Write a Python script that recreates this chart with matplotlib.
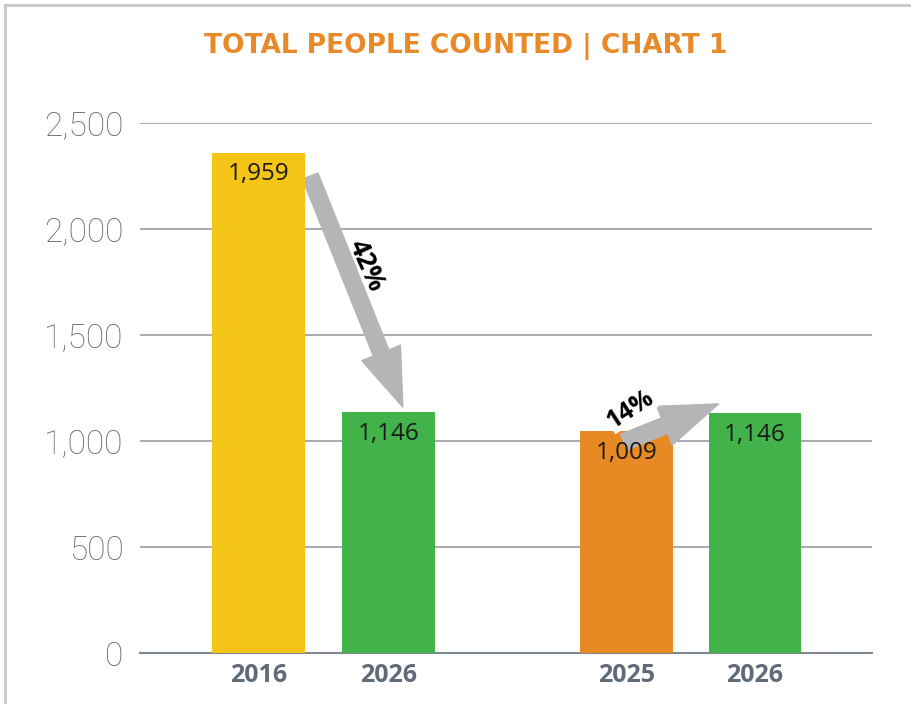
import matplotlib
matplotlib.use("Agg")
import matplotlib.pyplot as plt
from matplotlib.lines import Line2D

categories = ["2016", "2026", "2025", "2026"]
bar_heights = [2360, 1135, 1045, 1130]
bar_labels = ["1,959", "1,146", "1,009", "1,146"]
colors = ["#F4C516", "#42B34A", "#E78A24", "#42B34A"]
positions = [0, 1, 2.83, 3.82]
changes = ["42%", "14%"]
yticks = [0, 500, 1000, 1500, 2000, 2500]
ytick_labels = ["0", "500", "1,000", "1,500", "2,000", "2,500"]
title = "TOTAL PEOPLE COUNTED | CHART 1"

W, H = 912, 704
fig = plt.figure(figsize=(W / 100, H / 100), dpi=100)
ax = fig.add_axes([140 / W, 1 - 653 / H, (872 - 140) / W, (653 - 123) / H])

bw = 0.715
ax.bar(positions, bar_heights, width=bw, color=colors, zorder=3)
ax.set_ylim(0, 2500)
ax.set_xlim(-0.912, 4.72)
ax.set_yticks(yticks)
ax.set_yticklabels(ytick_labels, fontfamily="Roboto", fontweight="light",
                   fontsize=24, color="#5E6875")
ax.yaxis.grid(True, color="#8D949D", linewidth=1.1, zorder=0)
ax.set_axisbelow(True)
ax.tick_params(axis="y", length=0, pad=12)
ax.tick_params(axis="x", length=0, pad=7)
ax.set_xticks(positions)
ax.set_xticklabels(categories, fontfamily="Open Sans", fontweight="bold",
                   fontsize=18, color="#5F6B78")
for s in ["top", "right", "left"]:
    ax.spines[s].set_visible(False)
ax.spines["bottom"].set_color("#7E8792")
ax.spines["bottom"].set_linewidth(1.5)

# bar labels
for x, h, lab in zip(positions, bar_heights, bar_labels):
    ax.text(x, h - 45, lab, ha="center", va="top", fontfamily="Open Sans",
            fontsize=17.5, color="#1a1a1a", zorder=6)

astyle = "simple,head_length=2.1,head_width=1.5,tail_width=0.6"

# arrow 1: from top-right of bar 1 down to top of bar 2
x0, y0 = positions[0] + bw / 2 + 0.04, bar_heights[0] - 110
x1, y1 = positions[1] + 0.11, bar_heights[1] + 25
ax.annotate("", xy=(x1, y1), xytext=(x0, y0),
            arrowprops=dict(arrowstyle=astyle, color="#B5B5B7",
                            shrinkA=0, shrinkB=0, mutation_scale=20),
            zorder=2)
ax.text(0.83, 1830, changes[0], rotation=-66, ha="center", va="center",
        fontfamily="Open Sans", fontweight="bold", fontsize=19, color="black", zorder=6)

# arrow 2: from bar 3 up to bar 4
x0, y0 = positions[2] - 0.02, bar_heights[2] - 50
x1, y1 = positions[3] - 0.28, bar_heights[3] + 45
ax.annotate("", xy=(x1, y1), xytext=(x0, y0),
            arrowprops=dict(arrowstyle=astyle, color="#B5B5B7",
                            shrinkA=0, shrinkB=0, mutation_scale=20),
            zorder=4)
ax.text(2.86, 1150, changes[1], rotation=33, ha="center", va="center",
        fontfamily="Open Sans", fontweight="bold", fontsize=18, color="black", zorder=6,
        bbox=dict(facecolor="white", edgecolor="none", pad=0.3))

fig.text(466 / W, 1 - 47 / H, title, ha="center", va="center",
         fontfamily="DejaVu Sans", fontweight="bold", fontsize=19, color="#E8892A")

# frame lines at top and left
fig.add_artist(Line2D([5 / W, 5 / W], [0, 1 - 5 / H], transform=fig.transFigure,
                      color="#C9C9C9", linewidth=2))
fig.add_artist(Line2D([5 / W, 1], [1 - 5 / H, 1 - 5 / H], transform=fig.transFigure,
                      color="#C9C9C9", linewidth=2))

fig.savefig("out.png", dpi=100)
